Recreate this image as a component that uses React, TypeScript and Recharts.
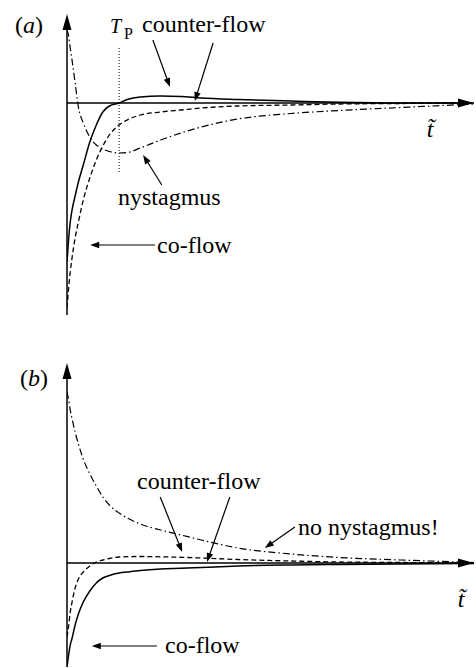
import { LineChart, Line, XAxis, YAxis, ReferenceLine } from 'recharts';

// dimensionless time, shared by every curve
const time = [0, 0.04, 0.08, 0.12, 0.2, 0.28, 0.4, 0.56, 0.72, 0.88, 1.04, 1.28, 1.48, 1.8, 2.3, 2.8, 3.3, 4.2, 5.5, 6.7, 8.2, 10];

// (a) – with nystagmus
const solidA = [-1.59, -1.36, -1.19, -1.08, -0.93, -0.79, -0.62, -0.39, -0.22, -0.09, -0.03, 0, 0.035, 0.06, 0.07, 0.065, 0.05, 0.035, 0.02, 0.007, 0, 0];
const dashedA = [-2.05, -1.85, -1.69, -1.56, -1.35, -1.19, -0.97, -0.75, -0.57, -0.43, -0.32, -0.22, -0.17, -0.12, -0.09, -0.07, -0.05, -0.03, -0.02, -0.01, -0.005, 0];
const dashDotA = [0.73, 0.67, 0.55, 0.44, 0.2, -0.04, -0.2, -0.34, -0.42, -0.46, -0.485, -0.5, -0.495, -0.45, -0.37, -0.3, -0.24, -0.16, -0.105, -0.075, -0.045, -0.01];

// (b) – no nystagmus
const solidB = [-1.04, -0.92, -0.82, -0.76, -0.62, -0.51, -0.39, -0.28, -0.2, -0.15, -0.125, -0.1, -0.09, -0.075, -0.06, -0.053, -0.045, -0.03, -0.02, -0.015, -0.01, -0.005];
const dashedB = [-0.74, -0.63, -0.49, -0.4, -0.25, -0.16, -0.09, -0.03, 0.01, 0.03, 0.045, 0.06, 0.063, 0.065, 0.062, 0.057, 0.05, 0.035, 0.02, 0.01, 0.005, 0];
const dashDotB = [1.71, 1.63, 1.53, 1.45, 1.31, 1.19, 1.04, 0.89, 0.77, 0.66, 0.58, 0.5, 0.45, 0.39, 0.33, 0.28, 0.23, 0.15, 0.09, 0.055, 0.03, 0.005];

// time at which the solid curve changes sign in (a)
const T_P = 1.28;

const T_MAX = 10;
const domainA: [number, number] = [-2.12, 0.89];
const domainB: [number, number] = [-1.04, 2.0];

const build = (s: number[], d: number[], dd: number[]) =>
  time.map((t, i) => ({ t, solid: s[i], dashed: d[i], dashDot: dd[i] }));

const dataA = build(solidA, dashedA, dashDotA);
const dataB = build(solidB, dashedB, dashDotB);

// line with a filled arrowhead at (x2, y2)
const arrow = (head: number, half: number, width = 1.2) => (props: any) => {
  const { x1, y1, x2, y2 } = props;
  const dx = x2 - x1;
  const dy = y2 - y1;
  const len = Math.hypot(dx, dy) || 1;
  const ux = dx / len;
  const uy = dy / len;
  const bx = x2 - ux * head;
  const by = y2 - uy * head;
  const pts = `${x2},${y2} ${bx - uy * half},${by + ux * half} ${bx + uy * half},${by - ux * half}`;
  return (
    <g>
      <line x1={x1} y1={y1} x2={bx + ux} y2={by + uy} stroke="#000" strokeWidth={width} />
      <polygon points={pts} fill="#000" />
    </g>
  );
};

const axisArrow = arrow(16, 4.5, 1.5);
const noteArrow = arrow(9, 3.3, 1.2);

type Seg = [number, number, number, number];

const SERIF = 'Liberation Serif, Times New Roman, serif';

function Panel({
  data,
  domain,
  margin,
  notes,
  extra,
  children,
}: {
  data: any[];
  domain: [number, number];
  margin: { top: number; right: number; bottom: number; left: number };
  notes: Seg[];
  extra?: any;
  children?: any;
}) {
  return (
    <LineChart width={476} height={334} data={data} margin={margin}>
      <XAxis dataKey="t" type="number" domain={[0, T_MAX]} allowDataOverflow hide />
      <YAxis type="number" domain={domain} allowDataOverflow hide />
      <ReferenceLine
        segment={[{ x: 0, y: 0 }, { x: T_MAX, y: 0 }]}
        ifOverflow="visible"
        shape={axisArrow}
      />
      <ReferenceLine
        segment={[{ x: 0, y: domain[0] }, { x: 0, y: domain[1] }]}
        ifOverflow="visible"
        shape={axisArrow}
      />
      {extra}
      <Line dataKey="solid" type="monotone" stroke="#000" strokeWidth={1.5} dot={false} activeDot={false} isAnimationActive={false} />
      <Line dataKey="dashed" type="monotone" stroke="#000" strokeWidth={1.3} strokeDasharray="5 3" dot={false} activeDot={false} isAnimationActive={false} />
      <Line dataKey="dashDot" type="monotone" stroke="#000" strokeWidth={1.2} strokeDasharray="7 3 1.5 3" dot={false} activeDot={false} isAnimationActive={false} />
      {notes.map(([xa, ya, xb, yb], i) => (
        <ReferenceLine
          key={i}
          segment={[{ x: xa, y: ya }, { x: xb, y: yb }]}
          ifOverflow="visible"
          shape={noteArrow}
        />
      ))}
      {children}
    </LineChart>
  );
}

const notesA: Seg[] = [
  [2.11, 0.63, 2.53, 0.16],
  [3.59, 0.6, 3.14, 0.02],
  [2.33, -0.82, 1.87, -0.52],
  [2.16, -1.42, 0.57, -1.42],
];

const notesB: Seg[] = [
  [2.29, 0.66, 2.83, 0.11],
  [4.0, 0.66, 3.44, 0.01],
  [5.6, 0.36, 4.86, 0.15],
  [2.21, -0.83, 0.61, -0.83],
];

function Label({ x, y, size = 24, italic = false, anchor = 'start', children }: any) {
  return (
    <text
      x={x}
      y={y}
      textAnchor={anchor}
      fontFamily={SERIF}
      fontSize={size}
      fontStyle={italic ? 'italic' : 'normal'}
      fill="#000"
    >
      {children}
    </text>
  );
}

export default function App() {
  return (
    <div style={{ position: 'absolute', left: 0, top: 0, width: 476, height: 668, background: '#fff' }}>
      <div style={{ position: 'absolute', left: 0, top: 0 }}>
        <Panel
          data={dataA}
          domain={domainA}
          margin={{ top: 14, right: 2, bottom: 19, left: 67 }}
          notes={notesA}
          extra={
            <ReferenceLine
              segment={[{ x: T_P, y: 0.55 }, { x: T_P, y: -0.7 }]}
              ifOverflow="visible"
              stroke="#000"
              strokeWidth={1}
              strokeDasharray="1 2"
            />
          }
        >
          <Label x={15} y={33}>
            (<tspan fontStyle="italic">a</tspan>)
          </Label>
          <Label x={110} y={33} size={20} italic>T</Label>
          <Label x={124} y={39} size={16}>P</Label>
          <Label x={142} y={32}>counter-flow</Label>
          <Label x={118} y={205}>nystagmus</Label>
          <Label x={157} y={253}>co-flow</Label>
          <Label x={430} y={137} italic anchor="middle">{'t\u0303'}</Label>
        </Panel>
      </div>
      <div style={{ position: 'absolute', left: 0, top: 334 }}>
        <Panel
          data={dataB}
          domain={domainB}
          margin={{ top: 29, right: 2, bottom: 1, left: 67 }}
          notes={notesB}
        >
          <Label x={20} y={52}>
            (<tspan fontStyle="italic">b</tspan>)
          </Label>
          <Label x={137} y={155}>counter-flow</Label>
          <Label x={298} y={201}>no nystagmus!</Label>
          <Label x={165} y={319}>co-flow</Label>
          <Label x={461} y={273} italic anchor="middle">{'t\u0303'}</Label>
        </Panel>
      </div>
    </div>
  );
}
